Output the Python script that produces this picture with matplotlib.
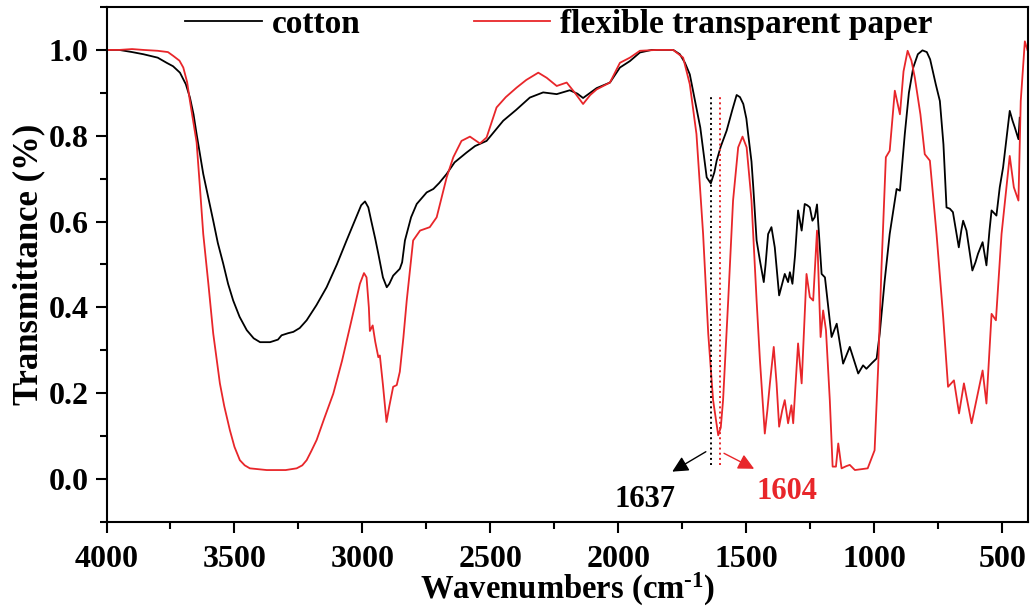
import numpy as np
import matplotlib
matplotlib.use('Agg')
import matplotlib.pyplot as plt
from matplotlib.ticker import MultipleLocator, FormatStrFormatter

plt.rcParams['font.family'] = ['Liberation Serif', 'DejaVu Serif']
plt.rcParams['font.weight'] = 'bold'
plt.rcParams['mathtext.fontset'] = 'custom'
plt.rcParams['mathtext.rm'] = 'Liberation Serif:bold'
plt.rcParams['mathtext.default'] = 'rm'

# cotton spectrum (wavenumber, transmittance)
cotton_wn = [4000, 3950, 3900, 3856, 3800, 3765, 3740, 3713, 3690, 3674, 3660, 3648,
             3635, 3622, 3600, 3583, 3565, 3544, 3525, 3505, 3480, 3452, 3425, 3400,
             3361, 3330, 3316, 3290, 3270, 3245, 3218, 3180, 3140, 3100, 3062, 3030,
             3005, 2990, 2977, 2965, 2950, 2938, 2920, 2905, 2895, 2880, 2854, 2845,
             2834, 2810, 2788, 2749, 2723, 2700, 2671, 2640, 2593, 2560, 2541, 2515,
             2450, 2400, 2346, 2294, 2241, 2190, 2160, 2138, 2110, 2085, 2033, 1994,
             1955, 1916, 1870, 1786, 1760, 1740, 1721, 1700, 1680, 1665, 1655, 1639,
             1625, 1616, 1600, 1577, 1555, 1538, 1525, 1512, 1500, 1493, 1480, 1473,
             1460, 1447, 1432, 1425, 1415, 1402, 1389, 1380, 1372, 1360, 1350, 1337,
             1330, 1320, 1310, 1298, 1284, 1272, 1262, 1252, 1242, 1233, 1224, 1215,
             1206, 1193, 1180, 1167, 1147, 1122, 1096, 1063, 1044, 1031, 1010, 991,
             979, 960, 940, 913, 900, 881, 865, 848, 830, 812, 795, 782, 760, 744,
             730, 718, 705, 693, 670, 660, 653, 640, 628, 617, 605, 595, 577, 562,
             550, 542, 523, 510, 497, 471, 460, 451, 437, 432]
cotton_t = [1.000, 1.000, 0.995, 0.990, 0.982, 0.970, 0.962, 0.947, 0.920, 0.889, 0.850, 0.804,
            0.757, 0.711, 0.650, 0.602, 0.550, 0.502, 0.455, 0.416, 0.378, 0.347, 0.328, 0.319,
            0.319, 0.325, 0.335, 0.340, 0.343, 0.352, 0.370, 0.405, 0.447, 0.500, 0.556, 0.602,
            0.638, 0.647, 0.633, 0.600, 0.560, 0.525, 0.470, 0.447, 0.455, 0.474, 0.490, 0.505,
            0.556, 0.610, 0.641, 0.668, 0.676, 0.690, 0.711, 0.738, 0.761, 0.776, 0.781, 0.788,
            0.835, 0.860, 0.889, 0.901, 0.897, 0.906, 0.898, 0.888, 0.900, 0.911, 0.924, 0.959,
            0.974, 0.994, 1.000, 1.000, 0.990, 0.970, 0.943, 0.880, 0.819, 0.750, 0.703, 0.689,
            0.715, 0.742, 0.775, 0.812, 0.860, 0.895, 0.890, 0.874, 0.840, 0.804, 0.740, 0.680,
            0.556, 0.509, 0.459, 0.500, 0.571, 0.587, 0.540, 0.480, 0.428, 0.455, 0.478, 0.459,
            0.482, 0.455, 0.520, 0.626, 0.579, 0.641, 0.638, 0.633, 0.602, 0.610, 0.640, 0.560,
            0.478, 0.470, 0.400, 0.331, 0.362, 0.269, 0.308, 0.246, 0.265, 0.257, 0.270, 0.281,
            0.339, 0.460, 0.571, 0.676, 0.672, 0.804, 0.900, 0.959, 0.990, 0.999, 0.995, 0.978, 0.920, 0.881,
            0.780, 0.633, 0.630, 0.622, 0.540, 0.580, 0.602, 0.579, 0.530, 0.486, 0.505, 0.525, 0.552, 0.498,
            0.580, 0.626, 0.614, 0.680, 0.726, 0.858, 0.835, 0.819, 0.792, 0.842]

# flexible transparent paper spectrum
paper_wn = [4000, 3950, 3900, 3856, 3800, 3760, 3739, 3715, 3700, 3685, 3674, 3660,
            3648, 3635, 3622, 3602, 3583, 3557, 3540, 3518, 3500, 3479, 3460, 3440,
            3374, 3300, 3257, 3235, 3218, 3200, 3179, 3150, 3114, 3080, 3049, 3010,
            2994, 2984, 2975, 2971, 2960, 2950, 2938, 2932, 2920, 2906, 2895, 2880,
            2866, 2854, 2840, 2827, 2802, 2775, 2737, 2710, 2671, 2645, 2613, 2580,
            2541, 2515, 2476, 2440, 2398, 2360, 2313, 2280, 2241, 2202, 2170, 2138,
            2110, 2085, 2033, 1994, 1955, 1916, 1850, 1786, 1747, 1721, 1695, 1669,
            1649, 1630, 1610, 1600, 1591, 1571, 1552, 1532, 1515, 1499, 1480, 1460,
            1447, 1428, 1418, 1408, 1393, 1382, 1372, 1360, 1350, 1337, 1324, 1317,
            1298, 1284, 1265, 1252, 1239, 1224, 1210, 1200, 1189, 1174, 1163, 1150,
            1141, 1128, 1110, 1096, 1076, 1026, 999, 985, 972, 955, 940, 920, 900,
            886, 870, 855, 842, 820, 803, 783, 757, 731, 712, 689, 669, 650, 620,
            601, 577, 562, 542, 525, 503, 471, 455, 437, 428, 412, 402]
paper_t = [1.000, 1.000, 1.002, 1.000, 0.998, 0.995, 0.986, 0.975, 0.959, 0.925, 0.881, 0.830,
           0.785, 0.680, 0.571, 0.455, 0.339, 0.223, 0.170, 0.114, 0.075, 0.044, 0.032, 0.025,
           0.021, 0.021, 0.025, 0.032, 0.044, 0.065, 0.091, 0.140, 0.199, 0.275, 0.354, 0.455,
           0.480, 0.470, 0.400, 0.345, 0.358, 0.320, 0.284, 0.288, 0.220, 0.133, 0.170, 0.215,
           0.219, 0.250, 0.330, 0.416, 0.556, 0.579, 0.587, 0.610, 0.703, 0.750, 0.788, 0.798,
           0.782, 0.796, 0.866, 0.890, 0.912, 0.930, 0.947, 0.935, 0.916, 0.924, 0.900, 0.874,
           0.895, 0.908, 0.924, 0.970, 0.982, 0.998, 1.000, 1.000, 0.982, 0.920, 0.804, 0.571,
           0.339, 0.184, 0.102, 0.120, 0.184, 0.416, 0.649, 0.773, 0.798, 0.773, 0.649, 0.416,
           0.277, 0.106, 0.160, 0.223, 0.308, 0.223, 0.122, 0.160, 0.184, 0.130, 0.172, 0.130,
           0.316, 0.223, 0.478, 0.424, 0.416, 0.579, 0.331, 0.393, 0.347, 0.184, 0.029, 0.029,
           0.083, 0.025, 0.030, 0.033, 0.021, 0.025, 0.067, 0.261, 0.494, 0.750, 0.765, 0.905, 0.850,
           0.950, 0.998, 0.975, 0.936, 0.850, 0.757, 0.742, 0.571, 0.377, 0.215, 0.230, 0.153, 0.223, 0.130,
           0.184, 0.253, 0.176, 0.385, 0.370, 0.571, 0.753, 0.680, 0.649, 0.881, 1.020, 1.000]

peak_cotton = 1637
peak_paper = 1604
red = '#e8262a'

fig = plt.figure(figsize=(10.31, 6.10), dpi=100)
ax = fig.add_axes([0.1033, 0.1443, 0.8937, 0.8442])

ax.plot(cotton_wn, cotton_t, color='black', lw=1.3, label='cotton')
ax.plot(paper_wn, paper_t, color=red, lw=1.3, label='flexible transparent paper')

# dotted markers + arrows for the two band positions
ax.plot([peak_cotton, peak_cotton], [0.033, 0.89], color='black', ls=':', lw=1.4)
ax.plot([peak_paper, peak_paper], [0.033, 0.89], color=red, ls=':', lw=1.4)
ax.annotate('', xy=(1799, 0.014), xytext=(1649, 0.067),
            arrowprops=dict(arrowstyle='-|>', color='black', lw=1.0, mutation_scale=24))
ax.annotate('', xy=(1460, 0.021), xytext=(1597, 0.063),
            arrowprops=dict(arrowstyle='-|>', color=red, lw=1.0, mutation_scale=24))
ax.text(1895, -0.047, str(peak_cotton), ha='center', va='center', fontsize=22, fontweight='bold')
ax.text(1343, -0.028, str(peak_paper), ha='center', va='center', fontsize=22,
        fontweight='bold', color=red)

ax.set_xlim(4000, 400)
ax.set_ylim(-0.1, 1.1)
ax.xaxis.set_major_locator(MultipleLocator(500))
ax.xaxis.set_minor_locator(MultipleLocator(250))
ax.yaxis.set_major_locator(MultipleLocator(0.2))
ax.yaxis.set_minor_locator(MultipleLocator(0.1))
ax.yaxis.set_major_formatter(FormatStrFormatter('%.1f'))
ax.tick_params(which='major', direction='out', length=8, width=1.5, labelsize=23)
ax.tick_params(axis='x', which='major', pad=8.5)
ax.tick_params(axis='y', which='major', pad=5)
ax.tick_params(which='minor', direction='out', length=5, width=1.5)
for s in ax.spines.values():
    s.set_linewidth(1.5)

ax.set_xlabel('Wavenumbers (cm$^{\u2010 1}$)', fontsize=23.5, fontweight='bold', labelpad=-2)
ax.set_ylabel('Transmittance (%)', fontsize=25, fontweight='bold', labelpad=2)

ax.legend(loc='center', bbox_to_anchor=(0.491, 0.967), ncol=2, frameon=False,
          fontsize=24, handlelength=2.3, handletextpad=0.3, columnspacing=3.4,
          borderaxespad=0, borderpad=0)

fig.savefig('out.png', dpi=100)
